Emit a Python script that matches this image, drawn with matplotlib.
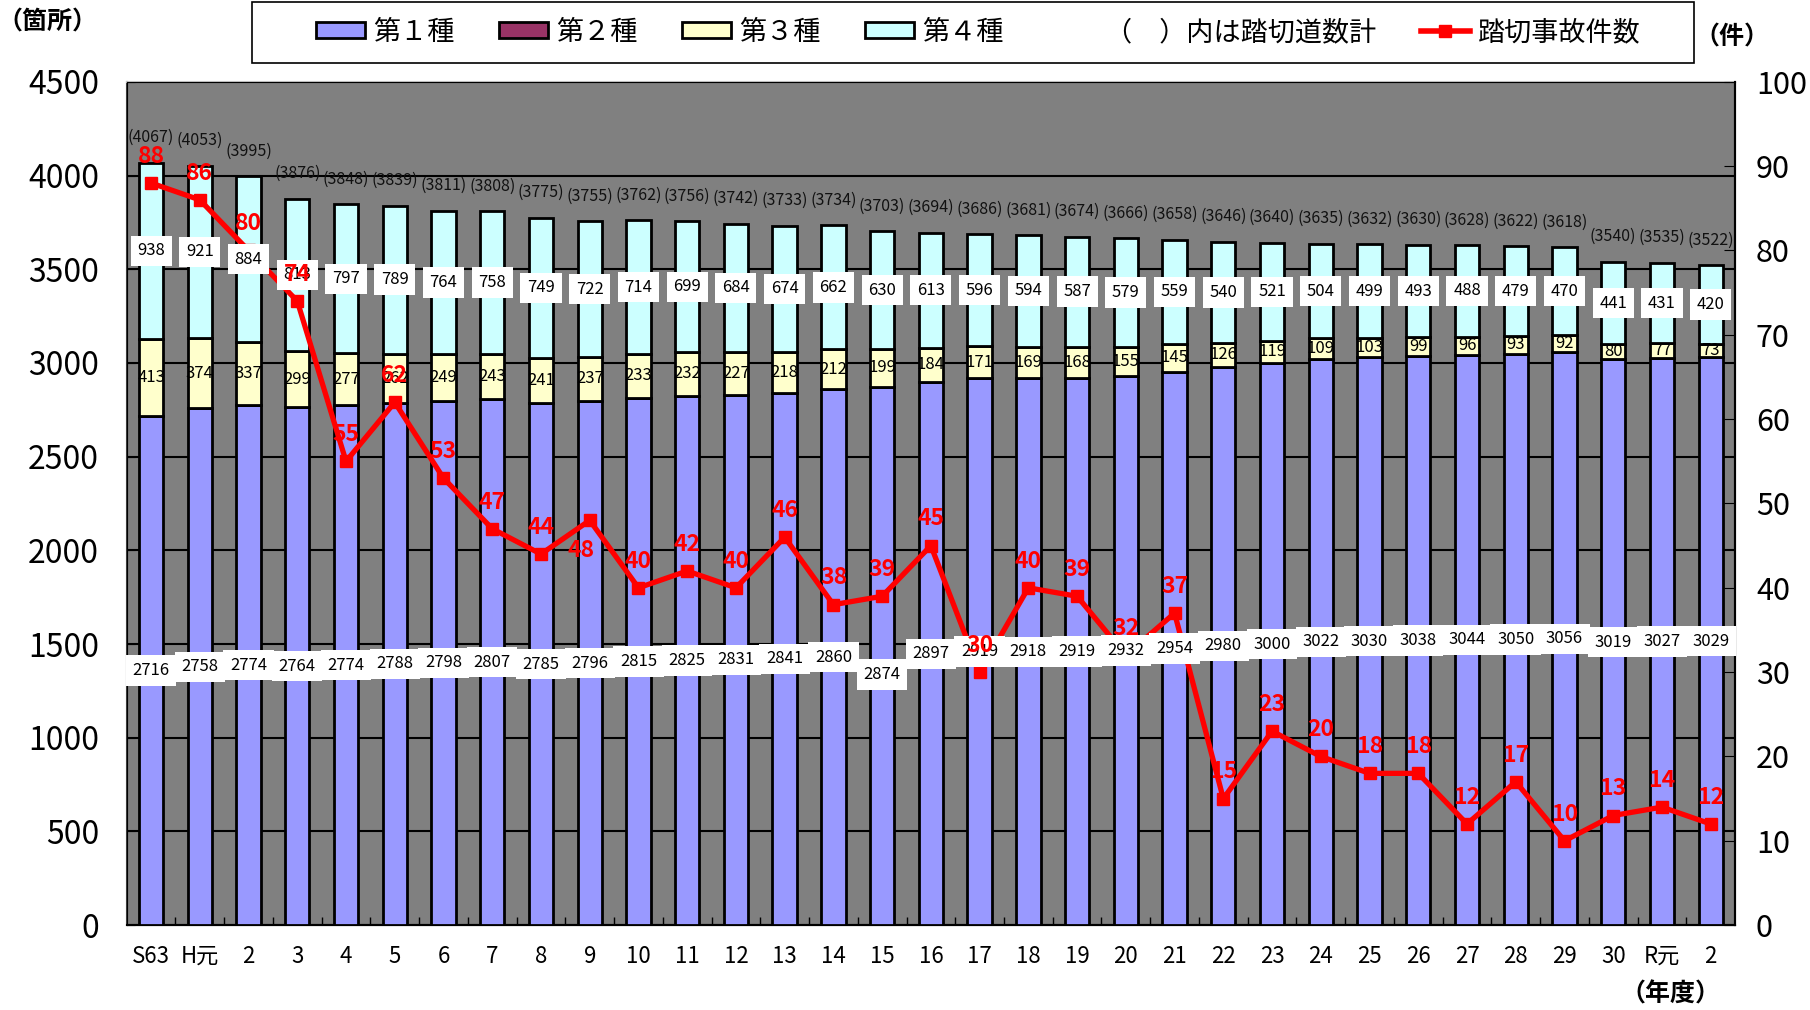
import matplotlib
matplotlib.use("Agg")
import matplotlib.pyplot as plt
from matplotlib import font_manager
from matplotlib.patches import Patch, Rectangle
from matplotlib.lines import Line2D

# 踏切道数の推移と踏切事故件数

nendo = ["S63", "H元", "2", "3", "4", "5", "6", "7", "8", "9", "10", "11", "12", "13",
         "14", "15", "16", "17", "18", "19", "20", "21", "22", "23", "24", "25", "26",
         "27", "28", "29", "30", "R元", "2"]

dai1 = [2716, 2758, 2774, 2764, 2774, 2788, 2798, 2807, 2785, 2796, 2815, 2825, 2831,
        2841, 2860, 2874, 2897, 2919, 2918, 2919, 2932, 2954, 2980, 3000, 3022, 3030,
        3038, 3044, 3050, 3056, 3019, 3027, 3029]
dai2 = [0] * 33
dai3 = [413, 374, 337, 299, 277, 262, 249, 243, 241, 237, 233, 232, 227, 218, 212, 199,
        184, 171, 169, 168, 155, 145, 126, 119, 109, 103, 99, 96, 93, 92, 80, 77, 73]
dai4 = [938, 921, 884, 813, 797, 789, 764, 758, 749, 722, 714, 699, 684, 674, 662, 630,
        613, 596, 594, 587, 579, 559, 540, 521, 504, 499, 493, 488, 479, 470, 441, 431, 420]
jiko = [88, 86, 80, 74, 55, 62, 53, 47, 44, 48, 40, 42, 40, 46, 38, 39, 45, 30, 40, 39,
        32, 37, 15, 23, 20, 18, 18, 12, 17, 10, 13, 14, 12]

installed = {f.name for f in font_manager.fontManager.ttflist}
fam = [f for f in ["Liberation Sans Narrow", "Noto Sans CJK JP", "DejaVu Sans"] if f in installed]
plt.rcParams['font.family'] = fam

c1 = "#9999FF"
c2 = "#993366"
c3 = "#FFFFCC"
c4 = "#CCFFFF"

fig = plt.figure(figsize=(18.1, 10.1), dpi=100)
ax = fig.add_axes([0.070, 0.084, 0.8886, 0.835])
ax.set_facecolor("#808080")

x = list(range(len(nendo)))
b12 = [a + b for a, b in zip(dai1, dai2)]
b123 = [a + b for a, b in zip(b12, dai3)]
goukei = [a + b for a, b in zip(b123, dai4)]

kw = dict(width=0.5, edgecolor="black", linewidth=2, zorder=3)
ax.bar(x, dai1, color=c1, **kw)
ax.bar(x, dai2, bottom=dai1, color=c2, **kw)
ax.bar(x, dai3, bottom=b12, color=c3, **kw)
ax.bar(x, dai4, bottom=b123, color=c4, **kw)

ax.set_xlim(-0.5, len(nendo) - 0.5)
ax.set_ylim(0, 4500)
ax.set_yticks(range(0, 4501, 500))
ax.yaxis.grid(True, color="black", linewidth=1.5, zorder=1)
ax.set_axisbelow(True)
ax.set_xticks(x)
ax.set_xticklabels(nendo, fontsize=16)
ax.set_xticks([i + 0.5 for i in x[:-1]], minor=True)
ax.tick_params(axis="x", which="major", length=0, pad=14)
ax.tick_params(axis="x", which="minor", direction="in", length=6, width=1, color="black")
ax.tick_params(axis="y", direction="in", length=6, labelsize=23, pad=20)

ax.spines["top"].set_color("#C8C8C8")
ax.spines["left"].set_color("#404040")
for s in ax.spines.values():
    s.set_linewidth(1.5)

ax2 = ax.twinx()
ax2.set_ylim(0, 100)
ax2.set_yticks(range(0, 101, 10))
ax2.tick_params(axis="y", direction="in", length=8, labelsize=22, pad=15)
ax2.spines["right"].set_color("black")
ax2.spines["right"].set_linewidth(1.5)
ax2.plot(x, jiko, color="red", linewidth=3.8, marker="s", markersize=9, zorder=4)

# 棒の数値ラベル
box = dict(boxstyle="square,pad=0.4", facecolor="white", edgecolor="none")
for i in x:
    y1 = dai1[i] / 2
    if nendo[i] == "15":
        y1 -= 100
    ax2.annotate(str(dai1[i]), xy=(i, y1 / 45), ha="center", va="center",
                 fontsize=12, bbox=box, zorder=5)
    ax2.annotate(str(dai3[i]), xy=(i, (b12[i] + dai3[i] / 2) / 45), ha="center",
                 va="center", fontsize=12, zorder=5)
    ax2.annotate(str(dai4[i]), xy=(i, (b123[i] + dai4[i] / 2) / 45), ha="center",
                 va="center", fontsize=12, bbox=box, zorder=5)
    ax2.annotate("(%d)" % goukei[i], xy=(i, goukei[i] / 45), xytext=(0, 12),
                 textcoords="offset points", ha="center", va="bottom", fontsize=11.5,
                 color="#111111", zorder=5)

# 事故件数ラベル
for i in x:
    dy = 11
    dx = 0
    if i == 9:
        dy, dx = -30, -6
    ax2.annotate(str(jiko[i]), xy=(i, jiko[i]), xytext=(dx, dy), textcoords="offset points",
                 ha="center", va="bottom", fontsize=16.5, fontweight="bold", color="red",
                 zorder=6)

# 凡例
fig.patches.append(Rectangle((0.139, 0.938), 0.797, 0.06, transform=fig.transFigure,
                             facecolor="white", edgecolor="black", linewidth=1.2))
handles = [
    Patch(facecolor=c1, edgecolor="black", linewidth=2),
    Patch(facecolor=c2, edgecolor="black", linewidth=2),
    Patch(facecolor=c3, edgecolor="black", linewidth=2),
    Patch(facecolor=c4, edgecolor="black", linewidth=2),
    Patch(facecolor="none", edgecolor="none"),
    Line2D([], [], color="red", linewidth=4, marker="s", markersize=8),
]
labels = ["第１種", "第２種", "第３種", "第４種", "（　）内は踏切道数計", "踏切事故件数"]
fig.legend(handles, labels, ncol=6, loc="center", bbox_to_anchor=(0.5405, 0.968),
           fontsize=19.5, frameon=False, columnspacing=1.65,
           handlelength=1.8, handleheight=0.5, handletextpad=0.3, borderaxespad=0)

fig.text(0.026, 0.978, "（箇所）", fontsize=18, fontweight="bold", ha="center", va="center")
fig.text(0.957, 0.963, "（件）", fontsize=18, fontweight="bold", ha="center", va="center")
fig.text(0.923, 0.015, "（年度）", fontsize=18, fontweight="bold", ha="center", va="center")

fig.savefig("out.png", dpi=100)
